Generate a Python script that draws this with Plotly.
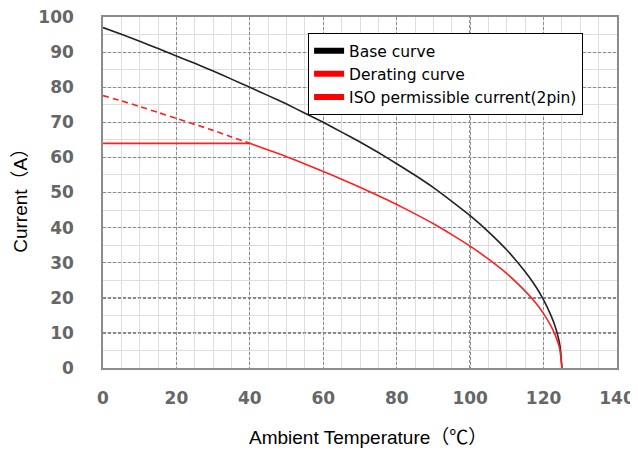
import plotly.graph_objects as go

# Ambient temperature (°C) sample points
temp = [0, 5, 10, 15, 20, 25, 30, 35, 40, 45, 50, 55, 60, 65, 70, 75, 80,
        85, 90, 95, 100, 105, 110, 115, 118, 120, 122, 123, 124, 124.5, 125]
# Base curve current (A)
base_current = [97.0, 95.1, 93.1, 91.0, 88.9, 86.8, 84.6, 82.3, 80.0, 77.6,
                75.2, 72.6, 70.0, 67.2, 64.4, 61.4, 58.2, 54.9, 51.4, 47.5,
                43.4, 38.8, 33.6, 27.4, 23.0, 19.4, 15.0, 12.3, 8.7, 6.1, 0.0]
# Derating curve current (A)
derating_current = [77.6, 76.1, 74.5, 72.8, 71.1, 69.4, 67.7, 65.8, 64.0, 62.1,
                    60.2, 58.1, 56.0, 53.8, 51.5, 49.1, 46.6, 43.9, 41.1, 38.0,
                    34.7, 31.0, 26.9, 21.9, 18.4, 15.5, 12.0, 9.8, 7.0, 4.9, 0.0]
# ISO permissible current (2pin)
iso_temp = [0, 40]
iso_current = [64, 64]
iso_limit_temp = 40

x_ticks = [0, 20, 40, 60, 80, 100, 120, 140]
y_ticks = [0, 10, 20, 30, 40, 50, 60, 70, 80, 90, 100]
x_title = "Ambient Temperature（℃）"
y_title = "Current（A）"

split = temp.index(iso_limit_temp)
smooth = dict(shape="spline", smoothing=0.5)

fig = go.Figure()
fig.add_trace(go.Scatter(x=temp, y=base_current, mode="lines",
                         line=dict(color="#222222", width=1.6, **smooth), showlegend=False))
fig.add_trace(go.Scatter(x=temp[:split + 1], y=derating_current[:split + 1], mode="lines",
                         line=dict(color="#ff2020", width=1.6, dash="6px,4px", **smooth),
                         showlegend=False))
fig.add_trace(go.Scatter(x=temp[split:], y=derating_current[split:], mode="lines",
                         line=dict(color="#ff2020", width=1.6, **smooth), showlegend=False))
fig.add_trace(go.Scatter(x=iso_temp, y=iso_current, mode="lines",
                         line=dict(color="#ff2020", width=1.6), showlegend=False))

# legend-only entries with thick symbols
for name, col in [("Base curve", "#000000"), ("Derating curve", "#ff0000"),
                  ("ISO permissible current(2pin)", "#ff0000")]:
    fig.add_trace(go.Scatter(x=[None], y=[None], mode="lines", name=name,
                             line=dict(color=col, width=6)))

# darker dashed reference grid lines
for xv in [100]:
    fig.add_shape(type="line", xref="x", yref="y", x0=xv, x1=xv, y0=0, y1=100,
                  line=dict(color="#111111", width=1.2, dash="3px,2px"), layer="below")
for yv in [10, 20]:
    fig.add_shape(type="line", xref="x", yref="y", x0=0, x1=140, y0=yv, y1=yv,
                  line=dict(color="#111111", width=1.2, dash="3px,2px"), layer="below")

tick_font = dict(family="DejaVu Sans", size=17, color="#666666", weight="bold")
title_font = dict(family="Liberation Sans, Noto Sans CJK JP", size=19, color="#000000")

fig.update_xaxes(
    range=[0, 140], tickvals=x_ticks, ticktext=[str(v) for v in x_ticks],
    tickfont=tick_font, ticks="outside", ticklen=14, tickcolor="rgba(0,0,0,0)",
    ticklabeloverflow="allow",
    showgrid=True, gridcolor="#8a8a8a", griddash="3px,2px", gridwidth=1,
    minor=dict(dtick=5, showgrid=True, gridcolor="#dedede", gridwidth=1, griddash="solid"),
    showline=True, linecolor="#8c8c8c", linewidth=1.5, mirror=True,
    zeroline=False, automargin=False,
)
fig.update_yaxes(
    range=[0, 100], tickvals=y_ticks, ticktext=[str(v) for v in y_ticks],
    tickfont=tick_font, ticks="outside", ticklen=24, tickcolor="rgba(0,0,0,0)",
    ticklabeloverflow="allow",
    showgrid=True, gridcolor="#8a8a8a", griddash="3px,2px", gridwidth=1,
    minor=dict(dtick=5, showgrid=True, gridcolor="#dedede", gridwidth=1, griddash="solid"),
    showline=True, linecolor="#8c8c8c", linewidth=1.5, mirror=True,
    zeroline=False, automargin=False,
)

fig.add_annotation(text=x_title, xref="paper", yref="paper", x=0.515, y=-0.199,
                   xanchor="center", yanchor="middle", showarrow=False, font=title_font)
fig.add_annotation(text=y_title, xref="paper", yref="paper", x=-0.162, y=0.49,
                   xanchor="center", yanchor="middle", showarrow=False, font=title_font,
                   textangle=-90)

fig.update_layout(
    width=630, height=442,
    margin=dict(l=95, r=21, t=9, b=82),
    paper_bgcolor="white", plot_bgcolor="white",
    legend=dict(x=0.399, y=0.954, xanchor="left", yanchor="top",
                bgcolor="white", bordercolor="#000000", borderwidth=1,
                font=dict(family="DejaVu Sans", size=15.5, color="#000000"),
                tracegroupgap=0, itemwidth=30),
)

fig.write_html("out.html")
